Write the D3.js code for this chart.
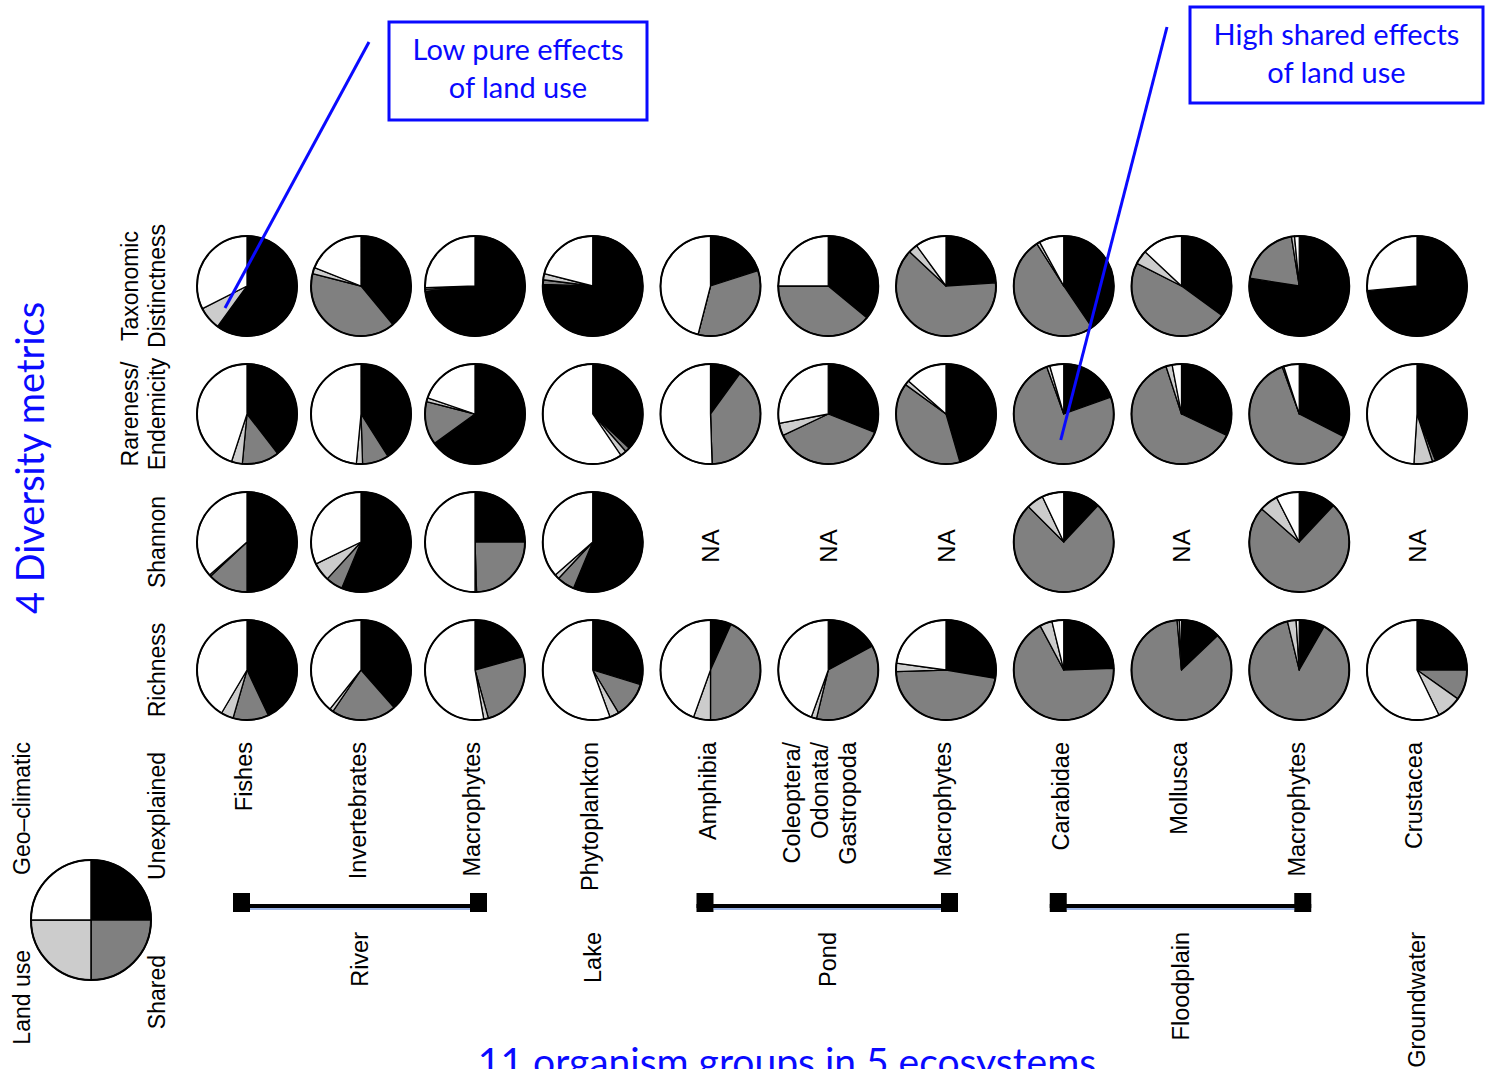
<!DOCTYPE html>
<html>
<head>
<meta charset="utf-8">
<script src="https://cdn.jsdelivr.net/npm/d3@7"></script>
<style>
  body { margin: 0; background: #fff; }
  svg text { font-family: "Liberation Sans", Arial, sans-serif; }
  .blue { font-family: Lato, "Open Sans", sans-serif !important; fill: #0a0aff; }
</style>
</head>
<body>
<svg id="chart" width="1485" height="1069"></svg>
<script>
// organism groups (columns) and the 4 diversity metrics (rows)
var groups = ["Fishes", "Invertebrates", "Macrophytes", "Phytoplankton", "Amphibia",
  "Coleoptera/|Odonata/|Gastropoda", "Macrophytes", "Carabidae", "Mollusca", "Macrophytes", "Crustacea"];
var metrics = ["Taxonomic|Distinctness", "Rareness/|Endemicity", "Shannon", "Richness"];
var parts = ["Unexplained", "Shared", "Land use", "Geo\u2013climatic"];
var partColors = ["#000000", "#808080", "#cccccc", "#ffffff"];

// ecosystems: first and last group index
var ecosystems = [
  {name: "River", from: 0, to: 2, bracket: true},
  {name: "Lake", from: 3, to: 3, bracket: false},
  {name: "Pond", from: 4, to: 6, bracket: true},
  {name: "Floodplain", from: 7, to: 9, bracket: true},
  {name: "Groundwater", from: 10, to: 10, bracket: false}
];

// variance fractions [unexplained, shared, land use, geo-climatic], null = NA
var taxonomic = [
  [0.60, 0.0, 0.075, 0.325], [0.39, 0.40, 0.02, 0.19], [0.733, 0.006, 0.006, 0.255],
  [0.755, 0.015, 0.02, 0.21], [0.20, 0.34, 0.0, 0.46], [0.36, 0.39, 0.0, 0.25],
  [0.24, 0.63, 0.03, 0.10], [0.405, 0.505, 0.01, 0.08], [0.35, 0.475, 0.045, 0.13],
  [0.775, 0.20, 0.01, 0.015], [0.735, 0.0, 0.0, 0.265]
];
var rareness = [
  [0.395, 0.12, 0.035, 0.45], [0.41, 0.085, 0.02, 0.485], [0.65, 0.14, 0.012, 0.198],
  [0.37, 0.015, 0.02, 0.595], [0.10, 0.395, 0.0, 0.505], [0.31, 0.37, 0.04, 0.28],
  [0.455, 0.395, 0.015, 0.135], [0.195, 0.75, 0.01, 0.045], [0.32, 0.63, 0.02, 0.03],
  [0.325, 0.62, 0.005, 0.05], [0.44, 0.01, 0.06, 0.49]
];
var shannon = [
  [0.50, 0.13, 0.005, 0.365], [0.563, 0.055, 0.06, 0.322], [0.25, 0.245, 0.005, 0.50],
  [0.563, 0.057, 0.015, 0.365], null, null, null,
  [0.12, 0.755, 0.055, 0.07], null, [0.12, 0.745, 0.06, 0.075], null
];
var richness = [
  [0.43, 0.115, 0.04, 0.415], [0.385, 0.21, 0.012, 0.393], [0.207, 0.25, 0.015, 0.528],
  [0.297, 0.117, 0.03, 0.556], [0.067, 0.433, 0.055, 0.445], [0.171, 0.367, 0.017, 0.445],
  [0.277, 0.468, 0.027, 0.228], [0.245, 0.677, 0.04, 0.038], [0.129, 0.857, 0.007, 0.007],
  [0.083, 0.879, 0.028, 0.01], [0.25, 0.098, 0.08, 0.572]
];
var rows = [taxonomic, rareness, shannon, richness];
var legendValues = [1, 1, 1, 1];

var svg = d3.select("#chart");
var blue = "#0a0aff";

// river columns sit a little closer together than the rest
var x = d3.scaleLinear().domain([0, 2, 10]).range([247, 475, 1417]);
var y = d3.scalePoint().domain(d3.range(metrics.length)).range([286, 670]);
var r = 50;

var pie = d3.pie().sort(null).value(function (d) { return d; });
var arc = d3.arc().innerRadius(0).outerRadius(r);

// helper for rotated (bottom-to-top) text, lines stacked to the right
function vtext(g, cx, yy, label, anchor, size, gap) {
  var lines = label.split("|");
  var off = (lines.length - 1) * gap / 2;
  lines.forEach(function (s, i) {
    g.append("text")
      .attr("transform", "translate(" + (cx - off + i * gap) + "," + yy + ") rotate(-90)")
      .attr("text-anchor", anchor)
      .attr("dy", "0.36em")
      .style("font-size", size + "px")
      .text(s);
  });
}

// pie grid
rows.forEach(function (row, ri) {
  row.forEach(function (vals, gi) {
    var g = svg.append("g")
      .attr("transform", "translate(" + x(gi) + "," + y(ri) + ")");
    if (vals === null) {
      vtext(g, 0, 4, "NA", "middle", 24, 0);
      return;
    }
    g.selectAll("path")
      .data(pie(vals))
      .enter().append("path")
      .attr("d", arc)
      .attr("fill", function (d, i) { return partColors[i]; })
      .attr("stroke", "#000")
      .attr("stroke-width", 1.3)
      .attr("stroke-linejoin", "round");
    g.append("circle").attr("r", r).attr("fill", "none")
      .attr("stroke", "#000").attr("stroke-width", 2);
  });
});

// metric labels on the left
metrics.forEach(function (m, i) {
  var lines = m.split("|");
  var cx = lines.length > 1 ? 143.5 : 157;
  vtext(svg, cx, y(i), m, "middle", 23, 27);
});

// group labels under the grid
var labels = svg.append("g");
groups.forEach(function (gname, i) {
  var cx = x(i) + (gname.indexOf("|") > 0 ? -9 : -3);
  vtext(labels, cx, 742, gname, "end", 23.5, 28);
});

// ecosystem brackets and names
ecosystems.forEach(function (e) {
  var x0 = x(e.from) - 14, x1 = x(e.to) + 12;
  if (e.from === e.to) { x0 = x(e.from); x1 = x0; }
  if (e.bracket) {
    var b = svg.append("g");
    b.append("rect").attr("x", x0).attr("y", 893).attr("width", 17).attr("height", 19).attr("fill", "#000");
    b.append("rect").attr("x", x1 - 17).attr("y", 893).attr("width", 17).attr("height", 19).attr("fill", "#000");
    b.append("line").attr("x1", x0).attr("x2", x1).attr("y1", 906).attr("y2", 906)
      .attr("stroke", "#000").attr("stroke-width", 4);
    b.append("line").attr("x1", x0 + 17).attr("x2", x1 - 17).attr("y1", 909).attr("y2", 909)
      .attr("stroke", "#3a6ad0").attr("stroke-width", 1.2);
  }
  vtext(svg, (x0 + x1) / 2, 932, e.name, "end", 23.5, 0);
});

// legend pie
var lg = svg.append("g").attr("transform", "translate(91,920)");
var legendArc = d3.arc().innerRadius(0).outerRadius(60);
lg.selectAll("path")
  .data(pie(legendValues))
  .enter().append("path")
  .attr("d", legendArc)
  .attr("fill", function (d, i) { return partColors[i]; })
  .attr("stroke", "#000")
  .attr("stroke-width", 1.5);
lg.append("circle").attr("r", 60).attr("fill", "none").attr("stroke", "#000").attr("stroke-width", 2);
vtext(svg, 22, 742, parts[3], "end", 23, 0);
vtext(svg, 157, 752, parts[0], "end", 23, 0);
vtext(svg, 22, 950, parts[2], "end", 23, 0);
vtext(svg, 157, 955, parts[1], "end", 23, 0);

// blue axis titles
svg.append("text").attr("class", "blue")
  .attr("transform", "translate(30,458) rotate(-90)")
  .attr("text-anchor", "middle").attr("dy", "0.36em")
  .style("font-size", "38px")
  .text("4 Diversity metrics");
svg.append("text").attr("class", "blue")
  .attr("x", 787).attr("y", 1076)
  .attr("text-anchor", "middle")
  .style("font-size", "39px")
  .text("11 organism groups in 5 ecosystems");

// callouts
var callouts = [
  {lines: ["Low pure effects", "of land use"], box: [389, 22, 258, 98], from: [369, 42], row: 0, col: 0, dx: -22, dy: 22},
  {lines: ["High shared effects", "of land use"], box: [1190, 7, 293, 96], from: [1167, 27], row: 1, col: 7, dx: -3, dy: 26}
];
callouts.forEach(function (c) {
  svg.append("line")
    .attr("x1", c.from[0]).attr("y1", c.from[1])
    .attr("x2", x(c.col) + c.dx).attr("y2", y(c.row) + c.dy)
    .attr("stroke", blue).attr("stroke-width", 3);
  svg.append("rect")
    .attr("x", c.box[0]).attr("y", c.box[1])
    .attr("width", c.box[2]).attr("height", c.box[3])
    .attr("fill", "#fff").attr("stroke", blue).attr("stroke-width", 3);
  c.lines.forEach(function (s, i) {
    svg.append("text").attr("class", "blue")
      .attr("x", c.box[0] + c.box[2] / 2)
      .attr("y", c.box[1] + 38 + i * 38)
      .attr("text-anchor", "middle")
      .style("font-size", "29px")
      .text(s);
  });
});
</script>
</body>
</html>
